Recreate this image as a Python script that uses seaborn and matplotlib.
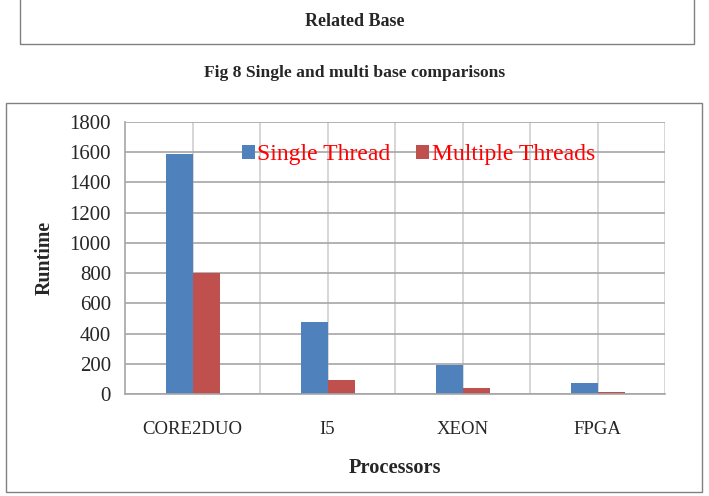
import pandas as pd
import matplotlib
matplotlib.use("Agg")
import matplotlib.pyplot as plt
import seaborn as sns
from matplotlib.patches import Rectangle

processors = ["CORE2DUO", "I5", "XEON", "FPGA"]
single_thread = [1590, 475, 190, 70]
multi_threads = [800, 90, 40, 12]
series_names = ["Single Thread", "Multiple Threads"]
y_ticks = [0, 200, 400, 600, 800, 1000, 1200, 1400, 1600, 1800]

df = pd.DataFrame({
    "Processor": processors * 2,
    "Runtime": single_thread + multi_threads,
    "Series": [series_names[0]] * 4 + [series_names[1]] * 4,
})

sns.set_style("white")
plt.rcParams["font.family"] = ["Liberation Serif", "DejaVu Serif"]

fig = plt.figure(figsize=(7.09, 4.96), dpi=100)

# frame of the table above and the chart frame
fig.patches.append(Rectangle((20 / 709, 1 - 44 / 496), 674 / 709, 44 / 496 + 0.01,
                             transform=fig.transFigure, fill=False,
                             edgecolor="#808080", linewidth=1.0))
fig.patches.append(Rectangle((6 / 709, 4 / 496), 696 / 709, 389 / 496,
                             transform=fig.transFigure, fill=False,
                             edgecolor="#808080", linewidth=1.0))
fig.text(0.5, 1 - 21 / 496, "Related Base", ha="center", va="center",
         fontsize=13, fontweight="bold")
fig.text(0.5, 1 - 73 / 496, "Fig 8 Single and multi base comparisons",
         ha="center", va="center", fontsize=12.6, fontweight="bold")

ax = fig.add_axes([125 / 709, 102 / 496, 540 / 709, 272 / 496])
sns.barplot(data=df, x="Processor", y="Runtime", hue="Series",
            palette=["#4F81BD", "#C0504D"], width=0.4, gap=0,
            saturation=1, ax=ax, edgecolor="none")

ax.set_ylim(0, 1800)
ax.set_xlim(-0.5, len(processors) - 0.5)
ax.set_yticks(y_ticks)
ax.grid(axis="y", color="#a6a6a6", linewidth=1.2)
for i in range(2 * len(processors)):
    ax.axvline(i / 2, color="#d0d0d0", linewidth=1.2, zorder=0)
ax.set_axisbelow(True)
for side in ["top", "right"]:
    ax.spines[side].set_visible(False)
for side in ["left", "bottom"]:
    ax.spines[side].set_color("#a6a6a6")
    ax.spines[side].set_linewidth(1.2)
ax.tick_params(axis="x", length=0, labelsize=13.5, pad=19.5)
ax.tick_params(axis="y", length=5, width=1.2, color="#a6a6a6",
               direction="out", labelsize=15, pad=5)

ax.set_xlabel("Processors", fontsize=14.7, fontweight="bold", labelpad=14)
ax.set_ylabel("Runtime", fontsize=14.4, fontweight="bold", labelpad=11)

leg = ax.legend(loc="upper center", bbox_to_anchor=(0.543, 0.953), ncol=2,
                frameon=False, fontsize=17, handlelength=0.55, handleheight=0.55,
                handletextpad=0.1, columnspacing=1.1, borderaxespad=0)
for t in leg.get_texts():
    t.set_color("#ff0000")

fig.savefig("out.png", dpi=100)
